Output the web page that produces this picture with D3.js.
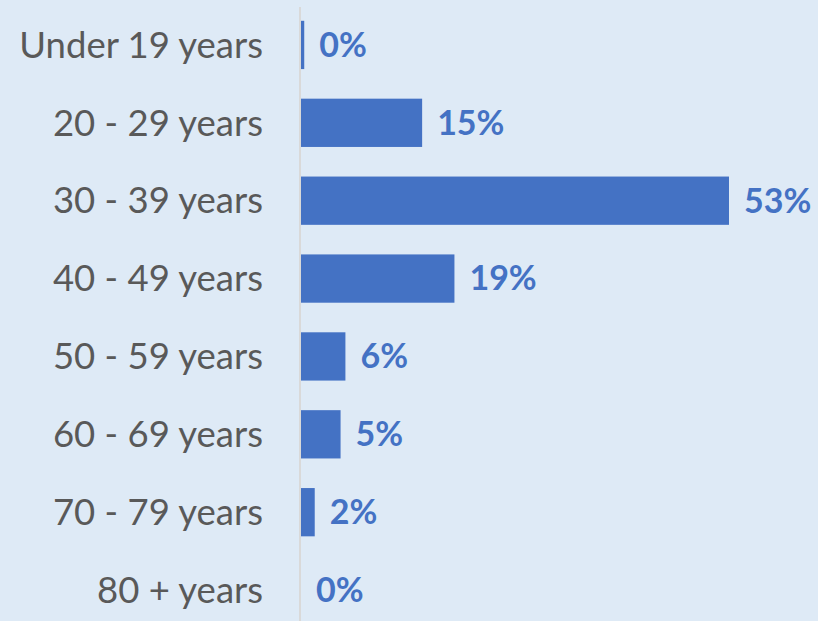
<!DOCTYPE html>
<html><head><meta charset="utf-8">
<script src="https://cdn.jsdelivr.net/npm/d3@7"></script>
<style>html,body{margin:0;padding:0;background:#DEEAF6;}svg{display:block;}</style>
</head><body>
<svg id="c" width="818" height="621"></svg>
<script>
const categories = ["Under 19 years","20 - 29 years","30 - 39 years","40 - 49 years","50 - 59 years","60 - 69 years","70 - 79 years","80 + years"];
const values = [0.4, 15, 53, 19, 5.5, 4.9, 1.7, 0];

const W = 818, H = 621;
const svg = d3.select("#c");
svg.append("rect").attr("width", W).attr("height", H).attr("fill", "#DEEAF6");

const x0 = 301;
const x = d3.scaleLinear().domain([0, 53]).range([x0, 729]);
const y = d3.scaleBand().domain(categories).range([6, 629]).paddingInner(0.38).paddingOuter(0.19);

svg.append("g").selectAll("rect").data(values).join("rect")
  .attr("x", x0)
  .attr("y", (d, i) => y(categories[i]))
  .attr("width", d => x(d) - x0)
  .attr("height", y.bandwidth())
  .attr("fill", "#4472C4");

svg.append("line").attr("x1", 300).attr("x2", 300).attr("y1", 7).attr("y2", H)
  .attr("stroke", "#D9D9D9").attr("stroke-width", 2);

const font = "Lato, 'Open Sans', sans-serif";
svg.append("g").selectAll("text").data(categories).join("text")
  .attr("x", 263)
  .attr("y", d => y(d) + y.bandwidth() / 2)
  .attr("dy", "0.35em")
  .attr("text-anchor", "end")
  .attr("font-family", font)
  .attr("font-size", 36.5)
  .attr("fill", "#595959")
  .text(d => d);

svg.append("g").selectAll("text").data(values).join("text")
  .attr("x", d => x(d) + 15)
  .attr("y", (d, i) => y(categories[i]) + y.bandwidth() / 2)
  .attr("dy", "0.35em")
  .attr("font-family", font)
  .attr("font-weight", "bold")
  .attr("font-size", 34)
  .attr("fill", "#4472C4")
  .text(d => Math.round(d) + "%");
</script>
</body></html>
